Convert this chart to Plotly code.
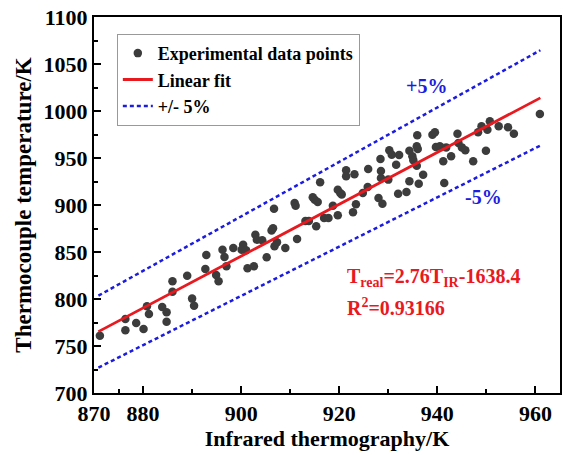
import plotly.graph_objects as go

ir_temp = [871.2, 876.4, 876.4, 878.6, 880.1, 880.8, 881.2, 883.9, 884.8, 884.8,
           886.0, 886.0, 889.0, 890.0, 890.4, 892.9, 892.7, 894.9, 895.4, 896.2,
           896.6, 897.0, 898.4, 900.4, 900.1, 901.0, 901.3, 902.6, 902.9, 903.2,
           904.3, 905.2, 906.2, 906.5, 906.7, 906.8, 907.3, 909.0, 910.9, 911.1,
           911.4, 913.1, 913.8, 914.6, 915.0, 915.3, 915.6, 916.1, 916.9, 917.8,
           918.7, 919.7, 919.7, 920.2, 920.5, 921.4, 921.4, 922.8, 923.1, 923.4,
           924.8, 925.9, 925.8, 928.0, 928.4, 928.5, 928.5, 928.8, 930.0, 930.2,
           930.7, 931.6, 932.0, 932.2, 933.7, 934.3, 934.3, 934.9, 935.1, 935.8,
           935.8, 935.9, 936.0, 936.2, 937.1, 939.0, 939.5, 939.7, 940.5, 941.2,
           941.4, 941.8, 942.8, 944.1, 944.3, 945.0, 945.7, 947.3, 948.3, 949.0,
           949.9, 950.2, 950.7, 952.5, 954.4, 955.6, 960.9]
tc_temp = [761.0, 778.7, 766.7, 774.5, 768.0, 792.2, 784.0, 791.5, 785.8, 775.9,
           818.8, 807.8, 824.8, 800.4, 792.9, 846.8, 831.9, 825.5, 818.8, 852.5,
           844.7, 834.8, 854.3, 857.8, 852.5, 851.8, 832.6, 834.8, 868.4, 863.1,
           862.4, 844.3, 873.0, 875.2, 896.1, 856.0, 860.3, 854.3, 902.1, 899.3,
           863.8, 883.0, 883.0, 908.2, 905.7, 877.3, 903.2, 924.1, 886.2, 886.2,
           899.3, 889.0, 916.3, 912.8, 911.3, 936.9, 930.5, 892.2, 932.6, 900.7,
           912.8, 938.3, 919.1, 907.4, 948.9, 936.2, 928.7, 901.4, 927.0, 958.2,
           953.5, 942.9, 912.0, 953.2, 913.8, 925.2, 957.8, 951.8, 947.5, 941.8,
           962.4, 974.1, 959.6, 922.7, 932.3, 974.8, 977.3, 961.7, 962.4, 946.5,
           923.4, 961.3, 951.8, 975.9, 966.0, 961.3, 958.2, 946.5, 977.3, 983.7,
           957.8, 980.1, 989.0, 983.7, 982.6, 975.9, 996.8]

# Linear fit and +/-5 % band
fit_slope = 2.76
fit_intercept = -1638.4
fit_x = [870.9, 961.0]
band_factor = 0.05

x_ticks = [870, 880, 900, 920, 940, 960]
x_minor = [875, 890, 910, 930, 950]
y_ticks = [700, 750, 800, 850, 900, 950, 1000, 1050, 1100]

FONT = "Liberation Serif"
fit_y = [fit_slope * v + fit_intercept for v in fit_x]
up_y = [v * (1 + band_factor) for v in fit_y]
lo_y = [v * (1 - band_factor) for v in fit_y]


def b(s):
    return "<b>%s</b>" % s


fig = go.Figure()
fig.add_trace(go.Scatter(x=ir_temp, y=tc_temp, mode="markers", name=b("Experimental data points"),
                         marker=dict(size=8.5, color="#3c3c3c")))
fig.add_trace(go.Scatter(x=fit_x, y=fit_y, mode="lines", name=b("Linear fit"),
                         line=dict(color="#e8191f", width=2.8)))
fig.add_trace(go.Scatter(x=fit_x, y=up_y, mode="lines", name=b("+/- 5%"),
                         line=dict(color="#1c1ce0", width=2.5, dash="4px,3px")))
fig.add_trace(go.Scatter(x=fit_x, y=lo_y, mode="lines", name="-5%", showlegend=False,
                         line=dict(color="#1c1ce0", width=2.5, dash="4px,3px")))

axis_common = dict(showline=True, linecolor="black", linewidth=2, mirror=True,
                   ticks="inside", ticklen=7, tickwidth=1.5, tickcolor="black",
                   showgrid=False, zeroline=False,
                   tickfont=dict(family=FONT, size=22, color="black", weight="bold"))

fig.update_xaxes(range=[870, 965], tickmode="array", tickvals=x_ticks,
                 ticktext=[b(v) for v in x_ticks],
                 minor=dict(tickmode="array", tickvals=x_minor, ticks="inside", ticklen=4,
                            tickwidth=1.5, tickcolor="black"),
                 title=dict(text=b("Infrared thermography/K"), standoff=3,
                            font=dict(family=FONT, size=22, color="black")),
                 **axis_common)
fig.update_yaxes(range=[700, 1100], tickmode="array", tickvals=y_ticks,
                 ticktext=[b(v) for v in y_ticks],
                 minor=dict(dtick=25, tick0=700, ticks="inside", ticklen=4,
                            tickwidth=1.5, tickcolor="black"),
                 title=dict(text=b("Thermocouple temperature/K"), standoff=6,
                            font=dict(family=FONT, size=23, color="black")),
                 **axis_common)

ann_font_blue = dict(family=FONT, size=20, color="#1c1ce0")
ann_font_red = dict(family=FONT, size=20, color="#e8191f")
fig.add_annotation(x=937.7, y=1027, text=b("+5%"), showarrow=False, font=ann_font_blue)
fig.add_annotation(x=949.5, y=908, text=b("-5%"), showarrow=False, font=ann_font_blue)
fig.add_annotation(x=921.2, y=823, text=b("T<sub>real</sub>=2.76T<sub>IR</sub>-1638.4"),
                   showarrow=False, xanchor="left", font=ann_font_red)
fig.add_annotation(x=921.2, y=791, text=b("R<sup>2</sup>=0.93166"),
                   showarrow=False, xanchor="left", font=ann_font_red)

fig.update_layout(
    width=567, height=455,
    margin=dict(l=94, r=5, t=16, b=62),
    paper_bgcolor="white", plot_bgcolor="white",
    font=dict(family=FONT, color="black"),
    legend=dict(x=0.049, y=0.955, xanchor="left", yanchor="top",
                bgcolor="white", bordercolor="#999999", borderwidth=1,
                font=dict(family=FONT, size=18, color="black"),
                tracegroupgap=0),
    showlegend=True,
)

fig.write_html("out.html")
